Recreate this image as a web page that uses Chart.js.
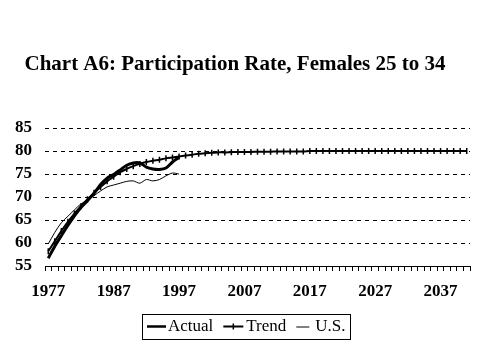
<!DOCTYPE html>
<html>
<head>
<meta charset="utf-8">
<script src="https://cdn.jsdelivr.net/npm/chart.js@4/dist/chart.umd.min.js"></script>
<style>
html,body{margin:0;padding:0;background:#fff;}
#wrap{width:479px;height:359px;}
</style>
</head>
<body>
<div id="wrap"><canvas id="c" width="479" height="359"></canvas></div>
<script>
const titleText = "Chart A6: Participation Rate, Females 25 to 34";
const firstYear = 1977;
const lastYear = 2041;
const years = [];
for (let y = firstYear; y <= lastYear; y++) years.push(String(y));
const labeledYears = ["1977","1987","1997","2007","2017","2027","2037"];
const seriesNames = ["Actual", "Trend", "U.S."];

const actual = [56.7,59.3,61.6,63.8,65.9,67.7,69.2,70.8,72.7,74.1,74.9,75.9,76.9,77.4,77.4,76.5,76.1,76.0,76.3,77.6,78.6];
const trend = [58.2,60.4,62.6,64.6,66.4,68.0,69.5,70.9,72.2,73.4,74.4,75.4,76.1,76.7,77.2,77.6,77.9,78.1,78.4,78.6,78.8,79.0,79.2,79.4,79.5,79.6,79.7,79.7,79.75,79.8,79.8,79.8,79.85,79.85,79.85,79.9,79.9,79.9,79.9,79.9,
80.0,80.0,80.0,80.0,80.0,80.0,80.0,80.0,80.0,80.0,80.0,80.0,80.0,80.0,80.0,80.0,80.0,80.0,80.0,80.0,80.0,80.0,80.0,80.0,80.0];
const us = [59.8,62.3,64.4,65.8,67.2,68.5,69.3,70.3,71.3,72.2,72.6,73.0,73.4,73.5,73.0,73.8,73.5,73.8,74.6,75.2,75.0];

const yMin = 55, yMax = 85, yStep = 5;

const serif = 'Liberation Serif, Times New Roman, serif';

// custom legend drawn below the axis, with a frame
const legendBox = {
  id: 'legendBox',
  afterDraw(chart) {
    const ctx = chart.ctx;
    ctx.save();
    ctx.font = '17px ' + serif;
    ctx.fillStyle = '#000';
    ctx.strokeStyle = '#000';
    ctx.textBaseline = 'middle';
    const top = 314, bottom = 339, cy = 326.5;
    const sampleW = [19, 20, 13];
    const gapText = [2, 3, 6];
    const gapItem = 10;
    const padL = 5, padR = 4;
    let total = padL + padR;
    seriesNames.forEach((n, i) => { total += sampleW[i] + gapText[i] + ctx.measureText(n).width; if (i < seriesNames.length - 1) total += gapItem; });
    const left = Math.round(246 - total / 2);
    let x = left + padL;
    seriesNames.forEach((n, i) => {
      ctx.beginPath();
      if (i === 0) { ctx.lineWidth = 2.5; ctx.moveTo(x, cy); ctx.lineTo(x + sampleW[i], cy); }
      if (i === 1) { ctx.lineWidth = 2; ctx.moveTo(x, cy); ctx.lineTo(x + sampleW[i], cy); }
      if (i === 2) { ctx.lineWidth = 1; ctx.moveTo(x, cy + 0.5); ctx.lineTo(x + sampleW[i], cy + 0.5); }
      ctx.stroke();
      if (i === 1) {
        ctx.lineWidth = 1.5;
        ctx.beginPath(); ctx.moveTo(x + sampleW[i] / 2, cy - 3); ctx.lineTo(x + sampleW[i] / 2, cy + 3); ctx.stroke();
      }
      x += sampleW[i] + gapText[i];
      ctx.fillText(n, x, cy);
      x += ctx.measureText(n).width + gapItem;
    });
    ctx.lineWidth = 1;
    ctx.strokeRect(left + 0.5, top + 0.5, Math.round(total), bottom - top);
    ctx.restore();
  }
};

new Chart(document.getElementById('c'), {
  type: 'line',
  data: {
    labels: years,
    datasets: [
      { label: seriesNames[0], data: actual, borderColor: '#000', borderWidth: 3, pointRadius: 0, tension: 0.3 },
      { label: seriesNames[1], data: trend, borderColor: '#000', borderWidth: 2, pointStyle: 'line', rotation: 90, pointRadius: 3, pointBorderWidth: 1.5, pointBorderColor: '#000', tension: 0.3 },
      { label: seriesNames[2], data: us, borderColor: '#000', borderWidth: 1, pointRadius: 0, tension: 0.3 }
    ]
  },
  options: {
    responsive: false,
    animation: false,
    devicePixelRatio: 1,
    layout: { padding: { left: 0, right: 9, top: 0, bottom: 53 } },
    plugins: {
      tooltip: { enabled: false },
      legend: { display: false },
      title: {
        display: true,
        text: titleText,
        color: '#000',
        font: { family: serif, size: 21, weight: 'bold' },
        padding: { top: 52, bottom: 50.8 }
      }
    },
    scales: {
      x: {
        type: 'category',
        offset: true,
        afterFit(scale) { scale.height = 40; },
        grid: { display: true, drawOnChartArea: false, drawTicks: true, tickLength: 5, offset: true, color: '#000' },
        border: { display: true, color: '#000', width: 1 },
        ticks: {
          autoSkip: false, maxRotation: 0, minRotation: 0, color: '#000', padding: 10,
          font: { family: serif, size: 17, weight: 'bold' },
          callback(v, i) { const lab = this.getLabelForValue(v); return labeledYears.includes(lab) ? lab : ''; }
        }
      },
      y: {
        min: yMin, max: yMax,
        afterFit(scale) { scale.width = 45; },
        grid: { display: true, drawTicks: false, color: '#000', lineWidth: 1 },
        border: { display: false, dash: [4, 4] },
        ticks: {
          stepSize: yStep, autoSkip: false, color: '#000', padding: 13,
          font: { family: serif, size: 17, weight: 'bold' }
        }
      }
    }
  },
  plugins: [legendBox]
});
</script>
</body>
</html>
